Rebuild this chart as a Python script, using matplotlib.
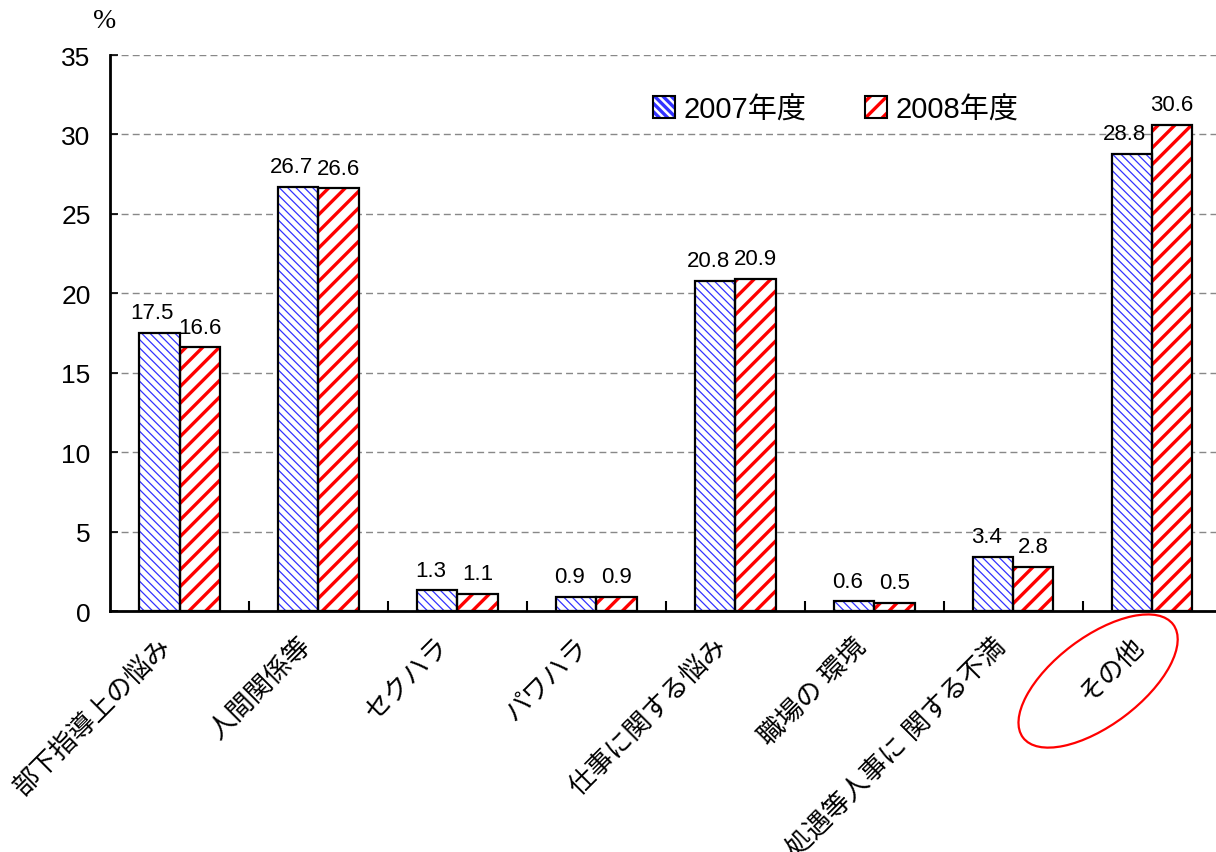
import matplotlib
matplotlib.use("Agg")
import numpy as np
import matplotlib.pyplot as plt
import matplotlib.transforms as mtransforms
from matplotlib.patches import Patch, Ellipse

plt.rcParams['font.family'] = ['Liberation Sans', 'Noto Sans CJK JP', 'DejaVu Sans']

categories = ['部下指導上の悩み', '人間関係等', 'セクハラ', 'パワハラ', '仕事に関する悩み',
              '職場の 環境', '処遇等人事に 関する不満', 'その他']
series_names = ['2007年度', '2008年度']
v2007 = [17.5, 26.7, 1.3, 0.9, 20.8, 0.6, 3.4, 28.8]
v2008 = [16.6, 26.6, 1.1, 0.9, 20.9, 0.5, 2.8, 30.6]
yticks = [0, 5, 10, 15, 20, 25, 30, 35]

blue = '#3333ff'
red = '#ff0000'

fig = plt.figure(figsize=(12.16, 8.53), dpi=100)
ax = fig.add_axes([0.0905, 0.2825, 0.9095, 0.6518])

x = np.arange(len(categories))
w = 0.29


def hatched_bars(xs, vals, color, hatch, hlw):
    plt.rcParams['hatch.linewidth'] = hlw
    b = ax.bar(xs, vals, w, facecolor='white', edgecolor=color, hatch=hatch, linewidth=0, zorder=2)
    for p in b:
        if hasattr(p, 'set_hatch_linewidth'):
            p.set_hatch_linewidth(hlw)
    ax.bar(xs, vals, w, fill=False, edgecolor='black', linewidth=1.6, zorder=3)
    return b


hatched_bars(x - w / 2, v2007, blue, '\\\\\\\\', 0.9)
hatched_bars(x + w / 2, v2008, red, '//', 2.4)

for xs, vals, dx in [(x - w / 2, v2007, -5), (x + w / 2, v2008, 0)]:
    for xi, v in zip(xs, vals):
        ax.annotate(f'{v:.1f}', (xi, v), xytext=(dx, 7), textcoords='offset points',
                    ha='center', va='bottom', fontsize=16)

ax.set_xlim(-0.5, len(categories) - 0.54)
ax.set_ylim(0, 35)
ax.set_yticks(yticks)
ax.tick_params(axis='y', direction='in', length=6, width=1.2, labelsize=19, pad=14)
ax.set_xticks(x)
ax.set_xticklabels(categories, rotation=45, ha='right', va='center',
                   rotation_mode='anchor', fontsize=19)
ax.tick_params(axis='x', length=0, pad=22)
ax.set_xticks(x[:-1] + 0.5, minor=True)
ax.tick_params(axis='x', which='minor', direction='in', length=7, width=1.5)
shift = mtransforms.ScaledTranslation(-0.12, 0.0, fig.dpi_scale_trans)
for lab in ax.get_xticklabels():
    lab.set_transform(lab.get_transform() + shift)

ax.yaxis.grid(True, linestyle=(0, (5, 3)), color='#888888', linewidth=1)
ax.set_axisbelow(True)
for s in ['top', 'right']:
    ax.spines[s].set_visible(False)
for s in ['left', 'bottom']:
    ax.spines[s].set_linewidth(2)

ax.text(-0.005, 1.062, '%', transform=ax.transAxes, ha='center', va='center',
        fontsize=20, family='Liberation Serif')

plt.rcParams['hatch.linewidth'] = 0.9
h1 = (Patch(facecolor='white', edgecolor=blue, hatch='\\\\\\\\', linewidth=0),
      Patch(fill=False, edgecolor='black', linewidth=1.5))
plt.rcParams['hatch.linewidth'] = 2.4
h2 = (Patch(facecolor='white', edgecolor=red, hatch='//', linewidth=0),
      Patch(fill=False, edgecolor='black', linewidth=1.5))
ax.legend([h1, h2], series_names, loc='upper right', bbox_to_anchor=(0.845, 0.975), ncol=2,
          frameon=False, fontsize=21, handlelength=0.75, handleheight=0.75,
          handletextpad=0.3, columnspacing=2.0)

# red ellipse around the last category label
cx, cy = ax.transData.transform((x[-1], 0))
ell = Ellipse((cx - 54, cy - 70), 188, 88, angle=37, fill=False, edgecolor=red,
              linewidth=1.6, transform=None)
fig.add_artist(ell)

fig.savefig('out.png', dpi=100)
